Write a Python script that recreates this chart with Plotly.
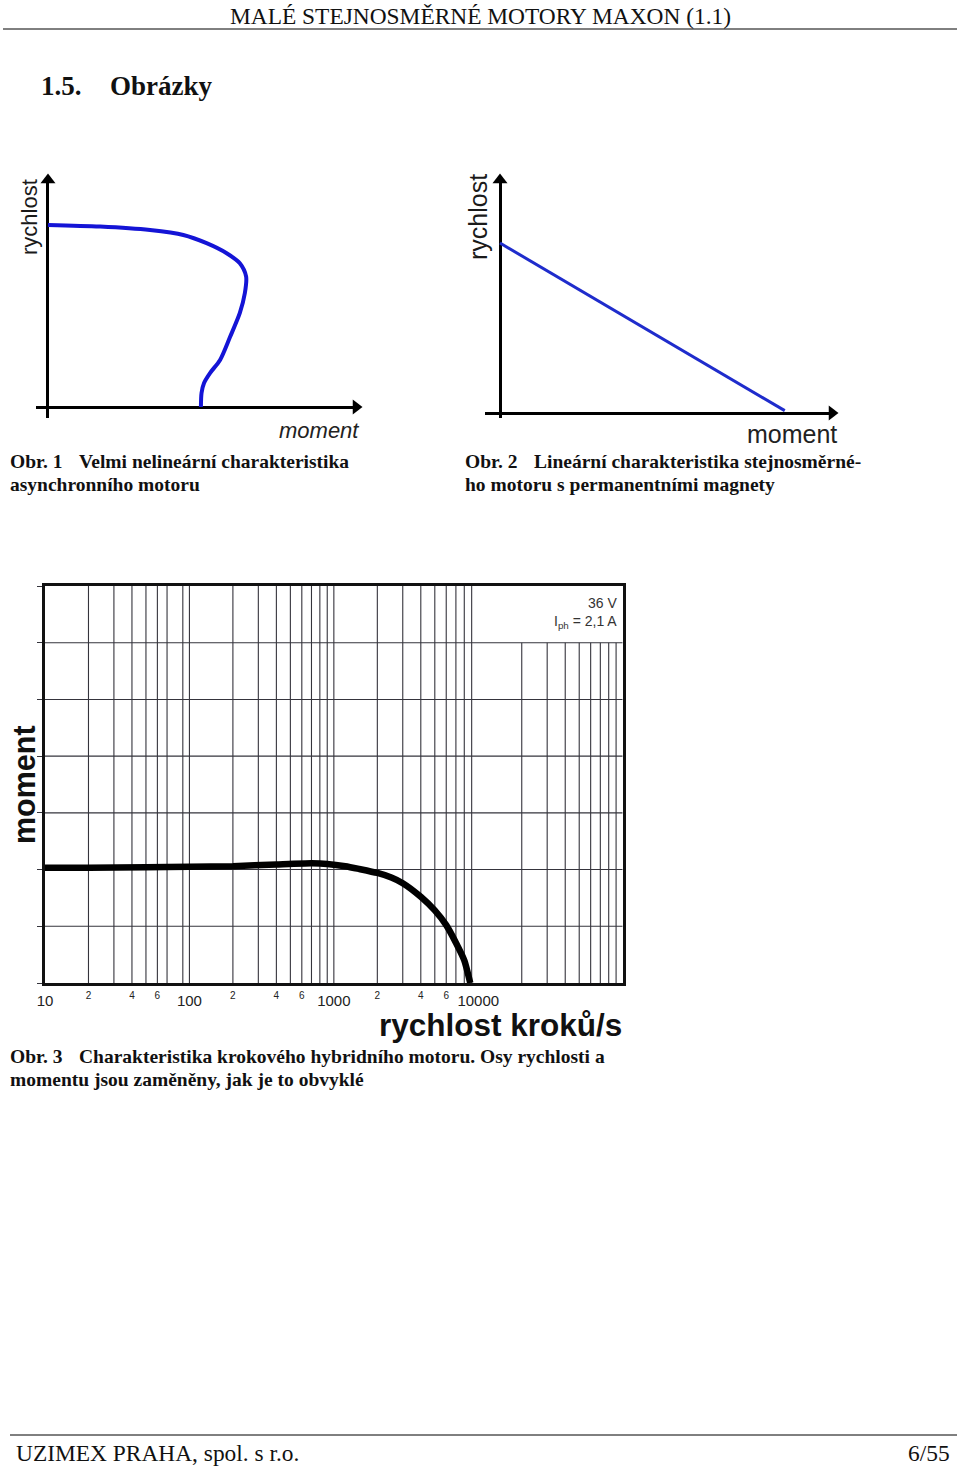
import numpy as np
import plotly.graph_objects as go

W, H = 960, 1466

# ---------------- data ----------------
# Obr. 1 (asynchronní motor) : moment vs rychlost (arbitrary units)
obr1_moment = [0.0, 1.66, 3.25, 4.31, 5.05, 5.69, 6.11, 6.31, 6.27, 6.11, 5.80, 5.48, 5.16, 4.97, 4.89, 4.87]
obr1_rychlost = [7.78, 7.71, 7.56, 7.35, 7.0, 6.57, 6.14, 5.57, 4.87, 4.02, 3.0, 2.01, 1.45, 1.03, 0.60, 0.0]

# Obr. 2 (stejnosměrný motor) : linear characteristic
obr2_moment = [0.0, 8.4]
obr2_rychlost = [7.08, 0.1]

# Obr. 3 (krokový motor) : rychlost kroků/s vs moment
obr3_rychlost = [10, 20, 50, 100, 200, 400, 700, 900, 1200, 1500, 2000, 2500, 3000, 4000, 5000, 6000, 7000, 8000, 8800]
obr3_moment = [2.03, 2.03, 2.04, 2.05, 2.06, 2.09, 2.11, 2.10, 2.06, 2.01, 1.94, 1.86, 1.76, 1.52, 1.28, 1.02, 0.71, 0.40, 0.0]

grid_vals = [20, 30, 40, 50, 60, 70, 90, 100,
             200, 300, 400, 500, 600, 700, 800, 900, 1000,
             2000, 3000, 4000, 5000, 6000, 7000, 8000, 9000,
             20000, 30000, 40000, 50000, 60000, 70000, 80000, 90000]
grid_levels = [1, 2, 3, 4, 5, 6]
major_vals = [10, 100, 1000, 10000]
major_text = ["10", "100", "1000", "10000"]
minor_vals = [20, 40, 60, 200, 400, 600, 2000, 4000, 6000]
minor_text = ["2", "4", "6", "2", "4", "6", "2", "4", "6"]


def fx(p):
    return p / W


def fy(p):
    return 1 - p / H


fig = go.Figure()

BLUE1 = "#1414d6"
BLUE2 = "#1f2ccc"
GRID = "#35343c"

# Obr. 1
fig.add_trace(go.Scatter(x=obr1_moment, y=obr1_rychlost, mode="lines",
                         line=dict(color=BLUE1, width=4, shape="spline", smoothing=0.8),
                         xaxis="x", yaxis="y", showlegend=False, hoverinfo="skip"))
fig.add_trace(go.Scatter(x=[9.809, 0], y=[0, 9.701], mode="markers",
                         marker=dict(symbol=["triangle-right", "triangle-up"], size=13, color="black"),
                         xaxis="x", yaxis="y", showlegend=False, cliponaxis=False, hoverinfo="skip"))
# Obr. 2
fig.add_trace(go.Scatter(x=obr2_moment, y=obr2_rychlost, mode="lines",
                         line=dict(color=BLUE2, width=3),
                         xaxis="x2", yaxis="y2", showlegend=False, hoverinfo="skip"))
fig.add_trace(go.Scatter(x=[9.794, 0], y=[0, 9.708], mode="markers",
                         marker=dict(symbol=["triangle-right", "triangle-up"], size=13, color="black"),
                         xaxis="x2", yaxis="y2", showlegend=False, cliponaxis=False, hoverinfo="skip"))

# Obr. 3 grid (top-right cell left empty for the legend text)
gx, gy = [], []
for v in grid_vals:
    top = 7 if v < 10000 else 6
    gx += [v, v, None]
    gy += [0, top, None]
for lv in grid_levels:
    gx += [10, 100000, None]
    gy += [lv, lv, None]
fig.add_trace(go.Scatter(x=gx, y=gy, mode="lines", line=dict(color=GRID, width=1.1),
                         xaxis="x3", yaxis="y3", showlegend=False, hoverinfo="skip"))
fig.add_trace(go.Scatter(x=obr3_rychlost, y=obr3_moment, mode="lines",
                         line=dict(color="black", width=6.5, shape="spline", smoothing=0.6),
                         xaxis="x3", yaxis="y3", showlegend=False, hoverinfo="skip"))
fig.add_trace(go.Scatter(x=[10], y=[0], mode="markers", marker=dict(opacity=0),
                         xaxis="x4", yaxis="y3", showlegend=False, hoverinfo="skip"))
fig.add_trace(go.Scatter(x=[10], y=[0], mode="markers", marker=dict(opacity=0),
                         xaxis="x5", yaxis="y3", showlegend=False, hoverinfo="skip"))

hidden = dict(showgrid=False, showticklabels=False, ticks="", showline=False, fixedrange=True,
              automargin=False)

layout = dict(
    width=W, height=H, margin=dict(l=0, r=0, t=0, b=0, pad=0, autoexpand=False), autosize=False,
    paper_bgcolor="white", plot_bgcolor="rgba(0,0,0,0)",
    showlegend=False,
    # Obr. 1 axes
    xaxis=dict(domain=[fx(36), fx(356)], range=[-0.382, 9.809], anchor="y",
               zeroline=True, zerolinewidth=3, zerolinecolor="black", **hidden),
    yaxis=dict(domain=[fy(418), fy(180)], range=[-0.47, 9.701], anchor="x",
               zeroline=True, zerolinewidth=3, zerolinecolor="black", **hidden),
    # Obr. 2 axes
    xaxis2=dict(domain=[fx(485), fx(832)], range=[-0.4425, 9.794], anchor="y2",
                zeroline=True, zerolinewidth=3, zerolinecolor="black", **hidden),
    yaxis2=dict(domain=[fy(418), fy(180)], range=[-0.2083, 9.708], anchor="x2",
                zeroline=True, zerolinewidth=3, zerolinecolor="black", **hidden),
    # Obr. 3 axes
    xaxis3=dict(domain=[fx(45), fx(622.7)], type="log", range=[1, 5], anchor="y3",
                showticklabels=False, ticks="", showgrid=False, automargin=False,
                showline=True, mirror=True, linewidth=3, linecolor="#111",
                zeroline=False, fixedrange=True),
    yaxis3=dict(domain=[fy(983), fy(586)], range=[0, 7], dtick=1, tick0=0, anchor="x3",
                showticklabels=False, ticks="outside", ticklen=5, tickcolor=GRID, tickwidth=1,
                showgrid=False, automargin=False,
                showline=True, mirror=True, linewidth=3, linecolor="#111",
                zeroline=False, fixedrange=True),
    xaxis4=dict(domain=[fx(45), fx(622.7)], type="log", range=[1, 5], anchor="y3", overlaying="x3",
                tickvals=major_vals, ticktext=major_text, ticks="", showgrid=False, automargin=False,
                showline=False, zeroline=False, ticklabelstandoff=7,
                tickfont=dict(family="Liberation Sans", size=15, color="#222"), fixedrange=True),
    xaxis5=dict(domain=[fx(45), fx(622.7)], type="log", range=[1, 5], anchor="y3", overlaying="x3",
                tickvals=minor_vals, ticktext=minor_text, ticks="", showgrid=False, automargin=False,
                showline=False, zeroline=False, ticklabelstandoff=5,
                tickfont=dict(family="Liberation Sans", size=10, color="#222"), fixedrange=True),
)

shapes = [
    # header and footer rules
    dict(type="line", xref="paper", yref="paper", x0=fx(3), x1=fx(957), y0=fy(29), y1=fy(29),
         line=dict(color="black", width=1)),
    dict(type="line", xref="paper", yref="paper", x0=fx(10), x1=fx(957), y0=fy(1435), y1=fy(1435),
         line=dict(color="black", width=1)),
]

serif = "Liberation Serif"
sans = "Liberation Sans"


def ann(text, x, y, size, family, xanchor="left", bold=False, color="#111", angle=0, italic=False):
    f = dict(family=family, size=size, color=color)
    if bold:
        f["weight"] = "bold"
    if italic:
        f["style"] = "italic"
    return dict(text=text, x=fx(x), y=fy(y), xref="paper", yref="paper", showarrow=False,
                xanchor=xanchor, yanchor="middle", font=f, textangle=angle)


annotations = [
    ann("MALÉ STEJNOSMĚRNÉ MOTORY MAXON (1.1)", 480, 16, 23.4, serif, xanchor="center"),
    ann("1.5.", 39, 86, 27, serif, bold=True),
    ann("Obrázky", 108, 86, 27, serif, bold=True),
    # Obr. 1 labels
    ann("rychlost", 30, 217, 22, sans, xanchor="center", color="#1a1a1a", angle=-90),
    ann("moment", 361, 430, 22, sans, xanchor="right", color="#222", italic=True),
    # Obr. 2 labels
    ann("rychlost", 478, 217, 25, sans, xanchor="center", color="#1a1a1a", angle=-90),
    ann("moment", 839, 434, 25, sans, xanchor="right", color="#222"),
    # captions
    ann("Obr. 1", 8, 461, 19.5, serif, bold=True),
    ann("Velmi nelineární charakteristika", 77, 461, 19.5, serif, bold=True),
    ann("asynchronního motoru", 8, 484, 19.5, serif, bold=True),
    ann("Obr. 2", 463, 461, 19.5, serif, bold=True),
    ann("Lineární charakteristika stejnosměrné-", 532, 461, 19.5, serif, bold=True),
    ann("ho motoru s permanentními magnety", 463, 484, 19.5, serif, bold=True),
    # Obr. 3 labels
    ann("36 V", 619, 603, 14, sans, xanchor="right", color="#333"),
    ann("I<sub>ph</sub> = 2,1 A", 619, 622, 14, sans, xanchor="right", color="#333"),
    ann("moment", 24, 785, 30.5, sans, xanchor="center", bold=True, angle=-90),
    ann("rychlost kroků/s", 624, 1025, 31.5, sans, xanchor="right", bold=True),
    ann("Obr. 3", 8, 1056, 19.5, serif, bold=True),
    ann("Charakteristika krokového hybridního motoru. Osy rychlosti a", 77, 1056, 19.5, serif, bold=True),
    ann("momentu jsou zaměněny, jak je to obvyklé", 8, 1079, 19.5, serif, bold=True),
    # footer
    ann("UZIMEX PRAHA, spol. s r.o.", 14, 1453, 23.4, serif),
    ann("6/55", 952, 1453, 23.4, serif, xanchor="right"),
]

layout["shapes"] = shapes
layout["annotations"] = annotations
fig.update_layout(**layout)

fig.write_html("out.html")
